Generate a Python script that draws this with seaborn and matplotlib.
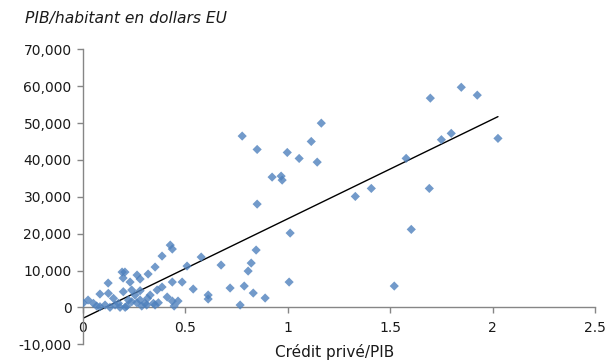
import numpy as np
import pandas as pd
import matplotlib
matplotlib.use("Agg")
import matplotlib.pyplot as plt
import seaborn as sns
from matplotlib.ticker import FuncFormatter

# Private credit to GDP ratio and GDP per capita (US dollars), one entry per country
credit_gdp = [
    0.778, 0.851, 0.998, 1.056, 1.115, 1.164, 1.144, 0.924, 0.968, 0.973,
    0.851, 1.012, 0.846, 0.822, 0.807, 1.007, 0.832, 0.890, 0.768, 0.788,
    0.719, 0.578, 0.675, 0.612, 0.612, 0.539, 1.696, 1.847, 1.925, 1.750,
    1.798, 2.026, 1.578, 1.408, 1.330, 1.691, 1.603, 1.520,
    0.427, 0.437, 0.387, 0.353, 0.509, 0.437, 0.485, 0.319, 0.265, 0.280,
    0.192, 0.206, 0.197, 0.231, 0.124, 0.084, 0.026, 0.002, 0.363, 0.387,
    0.412, 0.437, 0.446, 0.465,
    0.068, 0.084, 0.109, 0.133, 0.158, 0.174, 0.182, 0.207, 0.223, 0.239,
    0.255, 0.280, 0.304, 0.316, 0.329, 0.215, 0.288, 0.312, 0.345, 0.353,
    0.369, 0.198, 0.239, 0.264, 0.280, 0.125, 0.150, 0.052,
]
gdp_per_capita = [
    46470, 42840, 42020, 40400, 45000, 49970, 39400, 35340, 35610, 34530,
    28020, 20170, 15560, 12030, 9860, 6880, 3900, 2550, 650, 5800,
    5260, 13660, 11490, 3360, 2280, 4990, 56750, 59700, 57560, 45480,
    47200, 45840, 40420, 32270, 30100, 32270, 21160, 5800,
    16900, 15830, 13930, 10950, 11220, 6880, 6880, 9050, 8780, 7700,
    9590, 9590, 7970, 6880, 6610, 3630, 2000, 1190, 4720, 5530,
    2820, 1730, 380, 1730,
    380, 190, 650, 30, 650, 1110, 30, 30, 2000, 1540,
    3360, 2000, 1110, 2460, 3360, 380, 380, 650, 1110, 650,
    1270, 4260, 4720, 1270, 4530, 3820, 2460, 1110,
]

x_ticks = [0, 0.5, 1, 1.5, 2, 2.5]
x_tick_labels = ["0", "0.5", "1", "1.5", "2", "2.5"]
y_ticks = [-10000, 0, 10000, 20000, 30000, 40000, 50000, 60000, 70000]

df = pd.DataFrame({"credit": credit_gdp, "gdp": gdp_per_capita})

sns.set_theme(style="white")
plt.rcParams["font.family"] = ["DejaVu Sans"]

fig = plt.figure(figsize=(6.11, 3.64), dpi=100)
ax = fig.add_axes([0.1354, 0.0541, 0.8386, 0.8105])

point_color = "#4F81BD"
sns.regplot(
    data=df, x="credit", y="gdp", ax=ax, ci=None,
    marker="D",
    scatter_kws=dict(s=22, color=point_color, edgecolor="none", zorder=3),
    line_kws=dict(color="black", lw=1.0, zorder=2),
)

ax.set_xlim(0, 2.5)
ax.set_ylim(-10000, 70000)
ax.set_xticks(x_ticks)
ax.set_xticklabels(x_tick_labels)
ax.set_yticks(y_ticks)
ax.yaxis.set_major_formatter(FuncFormatter(lambda v, p: f"{int(v):,}"))

spine_color = "#868686"
for side in ["top", "right"]:
    ax.spines[side].set_visible(False)
ax.spines["bottom"].set_position(("data", 0))
ax.spines["bottom"].set_color(spine_color)
ax.spines["left"].set_color(spine_color)
ax.spines["bottom"].set_linewidth(1.0)
ax.spines["left"].set_linewidth(1.0)

ax.tick_params(axis="both", which="both", direction="out", length=4,
               width=1.0, color=spine_color, labelcolor="#1a1a1a",
               labelsize=10)
ax.tick_params(axis="x", pad=6, bottom=True)
ax.tick_params(axis="y", pad=4, left=True)

ax.set_xlabel("")
ax.set_ylabel("")
fig.text(0.548, 0.033, "Crédit privé/PIB", ha="center", va="center",
         fontsize=11, color="#1a1a1a")
fig.text(0.041, 0.95, "PIB/habitant en dollars EU", ha="left", va="center",
         fontsize=11.2, style="italic", color="#1a1a1a")

fig.savefig("out.png", dpi=100)
